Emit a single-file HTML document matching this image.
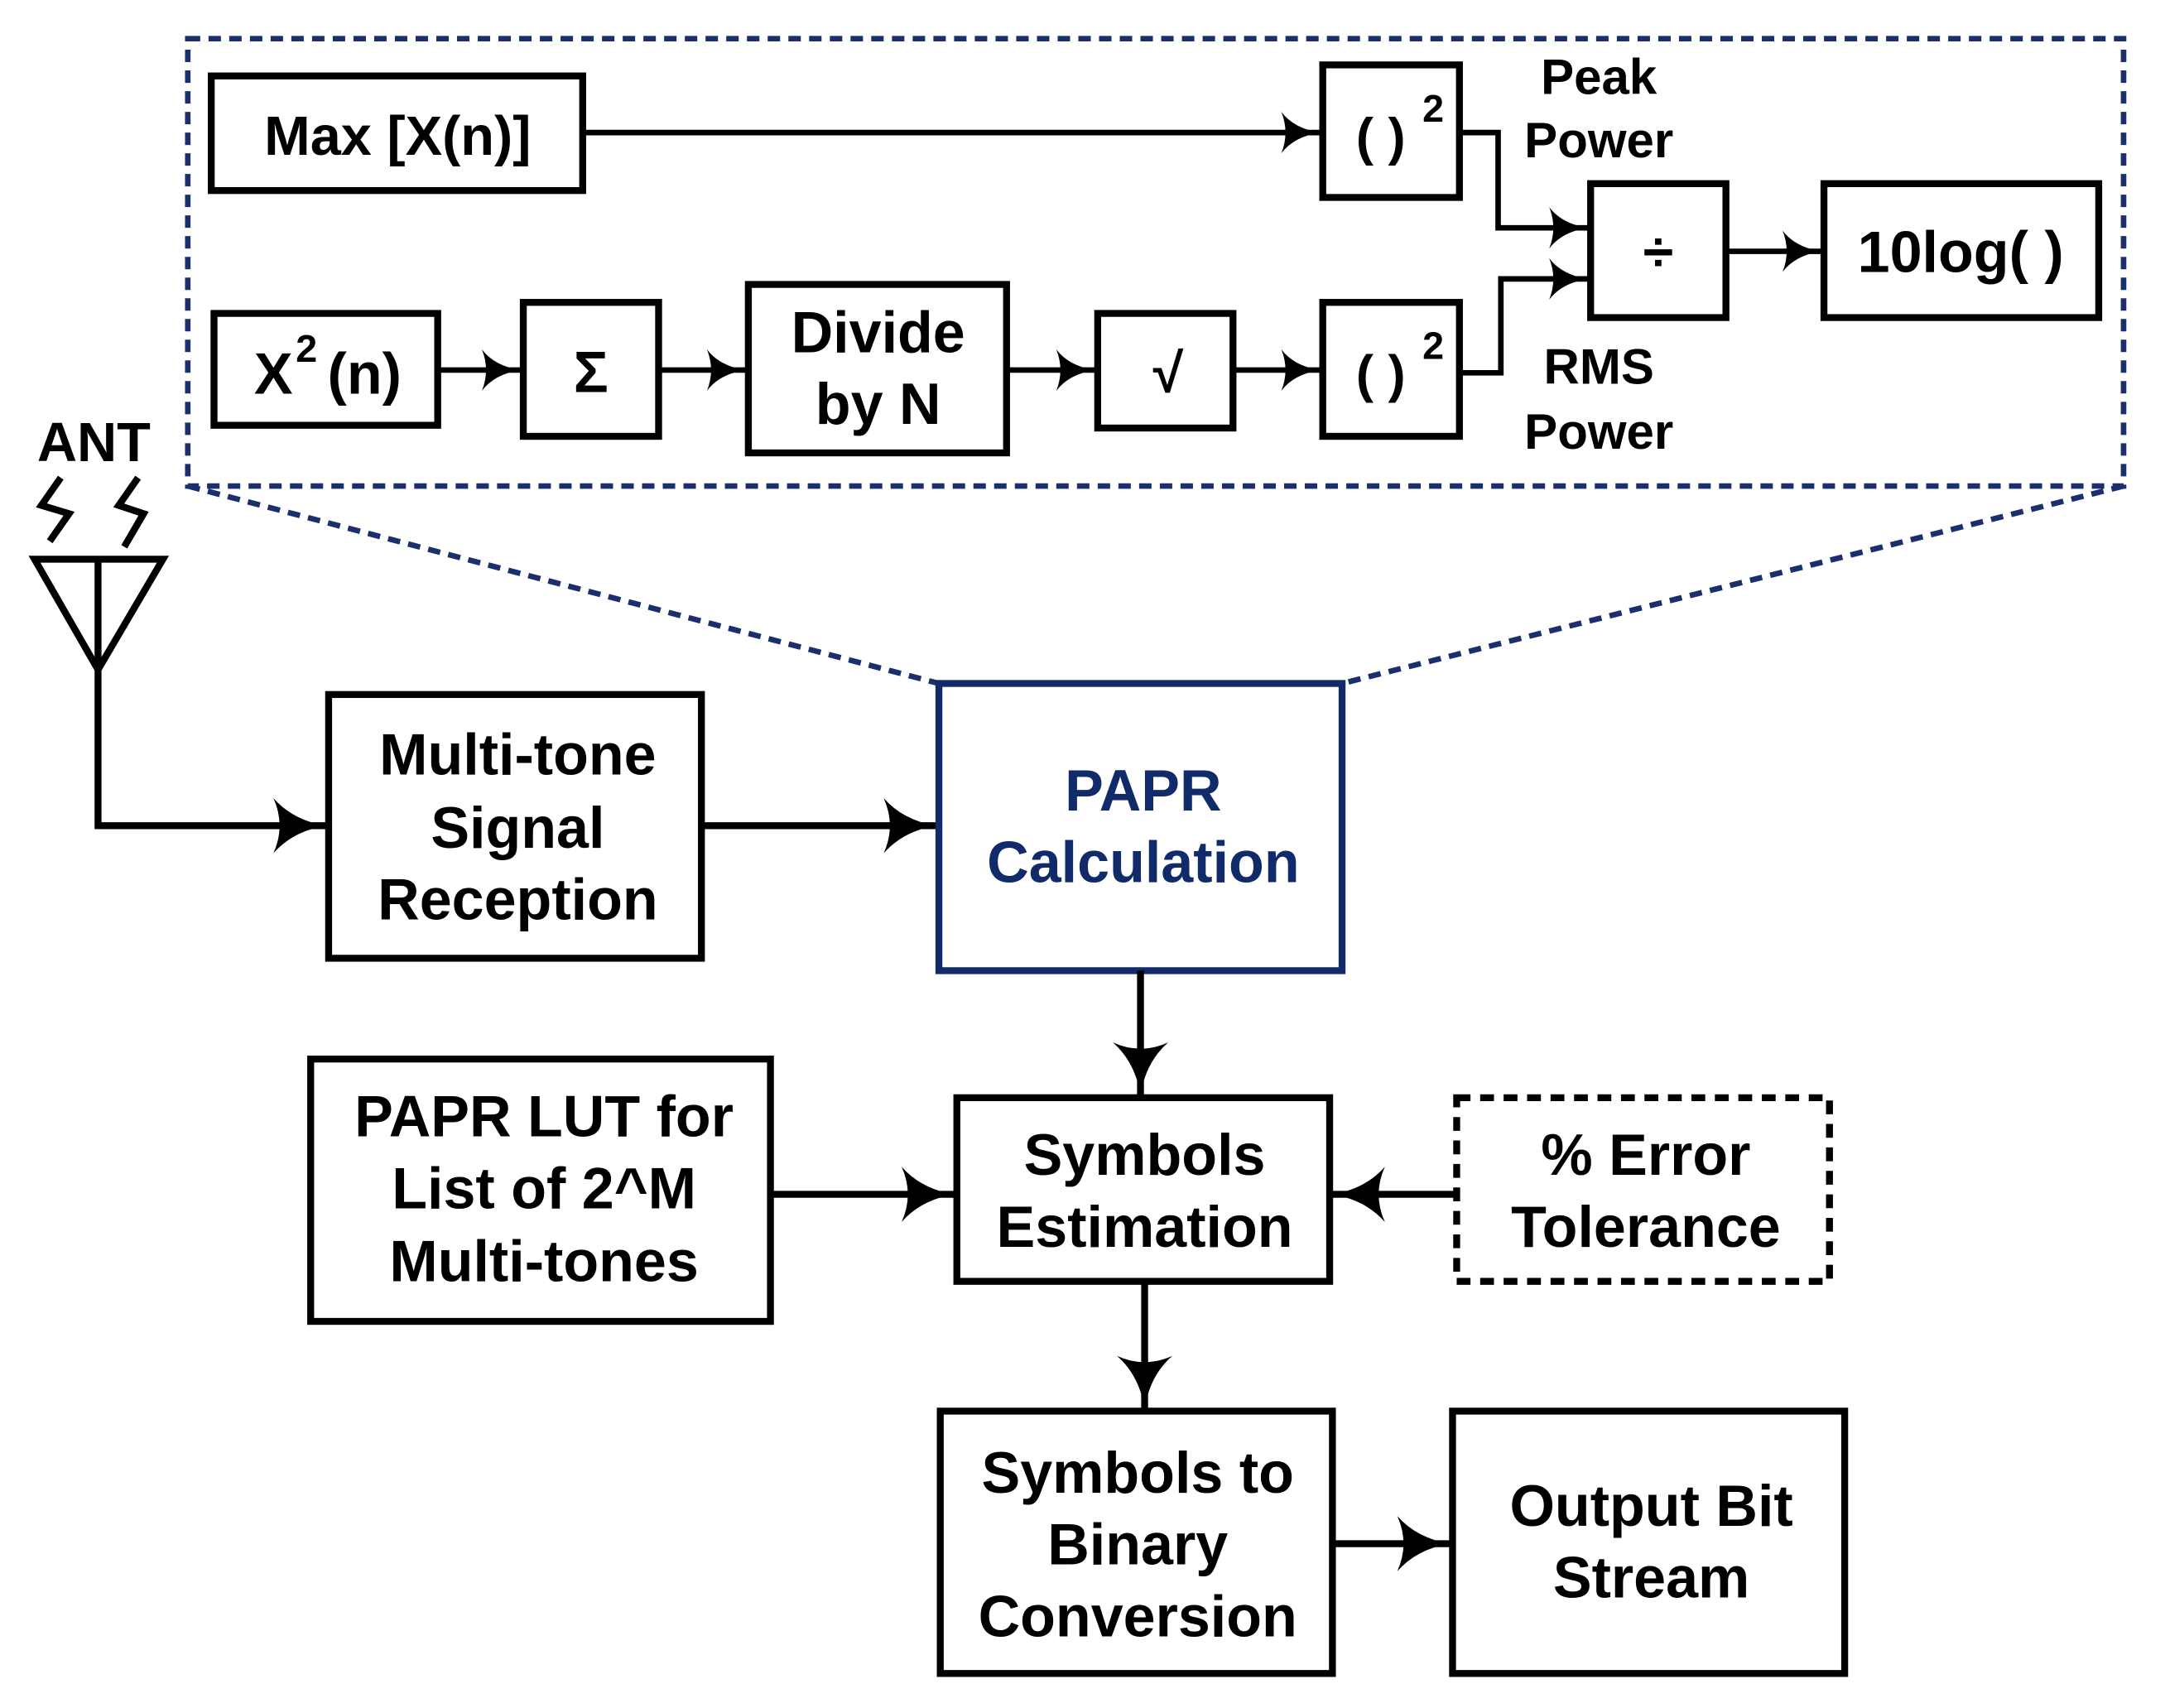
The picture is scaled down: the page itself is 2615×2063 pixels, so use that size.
<!DOCTYPE html>
<html><head><meta charset="utf-8"><style>
html,body{margin:0;padding:0;background:#fff;}
svg{display:block;}
text{font-family:"Liberation Sans",Arial,sans-serif;font-weight:bold;}
</style></head><body>
<svg width="2615" height="2063" viewBox="0 0 1568 1237" preserveAspectRatio="none" xmlns="http://www.w3.org/2000/svg">
<defs>
<marker id="a" markerUnits="userSpaceOnUse" markerWidth="44" markerHeight="48" refX="40" refY="24" orient="auto">
<path d="M2,4 Q16,20 40,24 Q16,28 2,44 Q11,24 2,4 Z" fill="#000"/>
</marker>
<marker id="s" markerUnits="userSpaceOnUse" markerWidth="32" markerHeight="36" refX="30" refY="18" orient="auto">
<path d="M2,3 Q11,15 30,18 Q11,21 2,33 Q8,18 2,3 Z" fill="#000"/>
</marker>
</defs>
<g fill="none" stroke="#000" stroke-width="5">
<rect x="136" y="28" width="1402" height="324" stroke="#1a2f6b" stroke-width="4" stroke-dasharray="9,6"/>
<line x1="136" y1="352" x2="680" y2="495" stroke="#1a2f6b" stroke-width="4" stroke-dasharray="9,6"/>
<line x1="1538" y1="352" x2="972" y2="495" stroke="#1a2f6b" stroke-width="4" stroke-dasharray="9,6"/>
<rect x="153" y="55" width="269" height="83"/>
<rect x="958" y="47" width="99" height="96"/>
<rect x="1152" y="133" width="98" height="97"/>
<rect x="1321" y="133" width="199" height="97"/>
<rect x="155" y="227" width="162" height="81"/>
<rect x="379" y="219" width="98" height="97"/>
<rect x="542" y="206" width="187" height="122"/>
<rect x="795" y="227" width="98" height="83"/>
<rect x="958" y="219" width="99" height="97"/>
<g stroke-width="4">
<line x1="422" y1="96" x2="956" y2="96" marker-end="url(#s)"/>
<polyline points="1057,96 1085,96 1085,165 1150,165" marker-end="url(#s)"/>
<polyline points="1057,270 1087,270 1087,202 1150,202" marker-end="url(#s)"/>
<line x1="1250" y1="182" x2="1319" y2="182" marker-end="url(#s)"/>
<line x1="317" y1="268" x2="377" y2="268" marker-end="url(#s)"/>
<line x1="477" y1="268" x2="540" y2="268" marker-end="url(#s)"/>
<line x1="729" y1="268" x2="793" y2="268" marker-end="url(#s)"/>
<line x1="893" y1="268" x2="956" y2="268" marker-end="url(#s)"/>
</g>
<polygon points="25,405 118,405 71,485"/>
<polyline points="71,405 71,598 236,598" marker-end="url(#a)"/>
<polyline points="44,346 30,366 50,372 36,392" stroke-width="5"/>
<polyline points="100,346 86,366 104,372 90,396" stroke-width="5"/>
<rect x="238" y="503" width="270" height="191"/>
<line x1="508" y1="598" x2="678" y2="598" marker-end="url(#a)"/>
<rect x="680" y="495" width="292" height="208" stroke="#102a6a"/>
<line x1="826" y1="703" x2="826" y2="793" marker-end="url(#a)"/>
<rect x="225" y="767" width="333" height="190"/>
<line x1="558" y1="865" x2="691" y2="865" marker-end="url(#a)"/>
<rect x="693" y="795" width="270" height="133"/>
<rect x="1055" y="795" width="270" height="133" stroke-dasharray="10,7"/>
<line x1="1055" y1="865" x2="965" y2="865" marker-end="url(#a)"/>
<line x1="829" y1="928" x2="829" y2="1020" marker-end="url(#a)"/>
<rect x="681" y="1022" width="284" height="190"/>
<line x1="965" y1="1118" x2="1050" y2="1118" marker-end="url(#a)"/>
<rect x="1052" y="1022" width="284" height="190"/>
</g>
<g fill="#000" text-anchor="middle">
<text x="288" y="112" font-size="40">Max [X(n)]</text>
<text x="1000" y="112" font-size="38">( )</text><text x="1038" y="88" font-size="28">2</text>
<text x="1000" y="284" font-size="38">( )</text><text x="1038" y="260" font-size="28">2</text>
<text x="1158" y="68" font-size="36">Peak</text>
<text x="1158" y="114" font-size="36">Power</text>
<text x="1158" y="278" font-size="36">RMS</text>
<text x="1158" y="325" font-size="36">Power</text>
<text x="1201" y="196" font-size="40">÷</text>
<text x="1420" y="197" font-size="42">10log( )</text>
<text x="198" y="285" font-size="42">X</text><text x="222" y="262" font-size="28">2</text><text x="264" y="285" font-size="42">(n)</text>
<text x="428" y="284" font-size="42">Σ</text>
<text x="636" y="255" font-size="42">Divide</text>
<text x="636" y="307" font-size="42">by N</text>
<text x="846" y="284" font-size="40" font-weight="normal">√</text>
<text x="68" y="334" font-size="40">ANT</text>
<text x="375" y="561" font-size="42">Multi-tone</text>
<text x="375" y="614" font-size="42">Signal</text>
<text x="375" y="666" font-size="42">Reception</text>
<text x="828" y="587" font-size="42" fill="#102a6a">PAPR</text>
<text x="828" y="639" font-size="42" fill="#102a6a">Calculation</text>
<text x="394" y="823" font-size="42">PAPR LUT for</text>
<text x="394" y="875" font-size="42">List of 2^M</text>
<text x="394" y="928" font-size="42">Multi-tones</text>
<text x="829" y="851" font-size="42">Symbols</text>
<text x="829" y="903" font-size="42">Estimation</text>
<text x="1192" y="851" font-size="42">% Error</text>
<text x="1192" y="903" font-size="42">Tolerance</text>
<text x="824" y="1081" font-size="42">Symbols to</text>
<text x="824" y="1133" font-size="42">Binary</text>
<text x="824" y="1185" font-size="42">Conversion</text>
<text x="1196" y="1105" font-size="42">Output Bit</text>
<text x="1196" y="1157" font-size="42">Stream</text>
</g>
</svg>
</body></html>
